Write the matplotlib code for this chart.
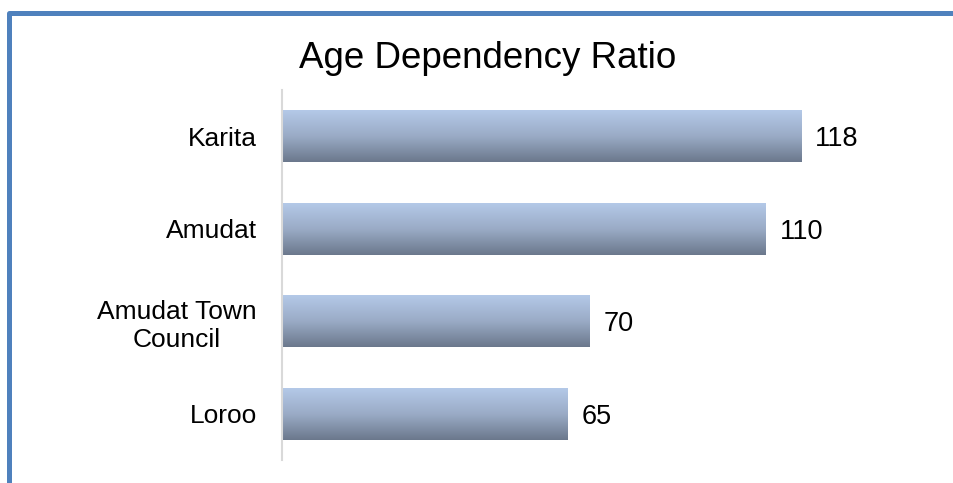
import numpy as np
import matplotlib.pyplot as plt
from matplotlib.lines import Line2D
from matplotlib.colors import LinearSegmentedColormap

plt.rcParams['font.family'] = ['Liberation Sans', 'DejaVu Sans']

# data
categories = ["Karita", "Amudat", "Amudat Town\nCouncil", "Loroo"]
values = [118, 110, 70, 65]
title = "Age Dependency Ratio"

W, H = 954, 483
fig = plt.figure(figsize=(W / 100, H / 100), dpi=100)

# plot area (pixel based)
left_px, right_px = 282, 898
top_px, bottom_px = 90, 460
ax = fig.add_axes([left_px / W, 1 - bottom_px / H,
                   (right_px - left_px) / W, (bottom_px - top_px) / H])

n = len(categories)
ypos = np.arange(n)[::-1]
bar_h = 0.56

bars = ax.barh(ypos, values, height=bar_h, color="none", edgecolor="none")

# vertical gradient fill, light blue on top to slate at bottom
cmap = LinearSegmentedColormap.from_list(
    "grad", ["#b4c9e8", "#9aabc6", "#6b788c"])
grad = np.linspace(0, 1, 256).reshape(-1, 1)
for b in bars:
    x0 = b.get_x()
    y0 = b.get_y()
    im = ax.imshow(grad, cmap=cmap, aspect="auto", origin="upper",
                   extent=(x0, x0 + b.get_width(), y0, y0 + b.get_height()),
                   zorder=2)
    im.set_clip_path(b)

# value labels
for y, v in zip(ypos, values):
    ax.annotate(str(v), xy=(v, y), xytext=(10, -2), textcoords="offset points",
                va="center", ha="left", fontsize=19.5, color="black")

ax.set_xlim(0, 140)
ax.set_ylim(-0.5, n - 0.5)
ax.set_yticks(ypos)
ax.set_yticklabels(categories, fontsize=19, multialignment="center")
ax.tick_params(axis="y", length=0, pad=18)
ax.set_xticks([])

for s in ["top", "right", "bottom"]:
    ax.spines[s].set_visible(False)
ax.spines["left"].set_color("#d9d9d9")
ax.spines["left"].set_linewidth(1.5)

fig.text(488 / W, 1 - 68 / H, title, ha="center", va="baseline",
         fontsize=26.5, color="black")

# blue frame on the left and top
fig.add_artist(Line2D([9 / W, 9 / W, 1.0], [0.0, 1 - 12.5 / H, 1 - 12.5 / H],
                      transform=fig.transFigure, color="#4f81bd",
                      linewidth=3.6, solid_joinstyle="round"))

fig.savefig("out.png", dpi=100)
